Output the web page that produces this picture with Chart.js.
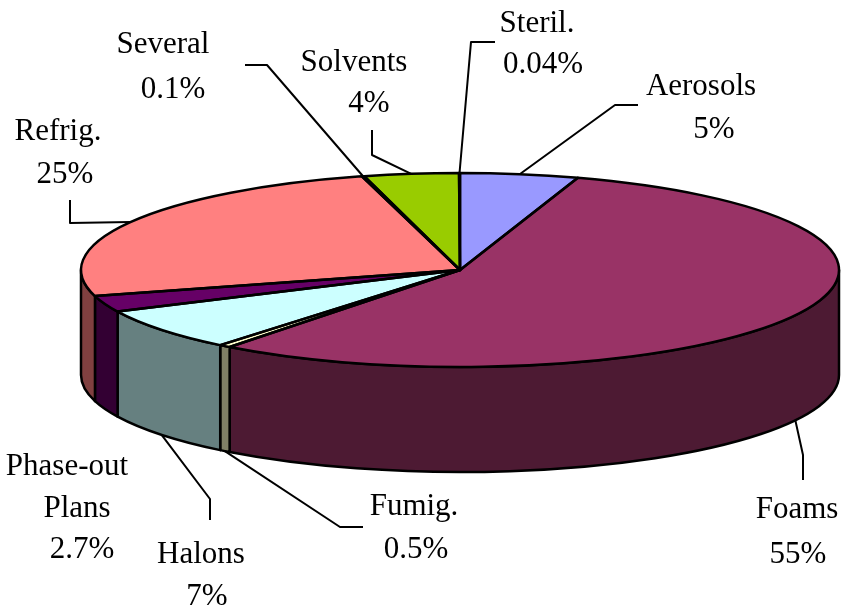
<!DOCTYPE html>
<html>
<head>
<meta charset="utf-8">
<script src="https://cdn.jsdelivr.net/npm/chart.js@4.4.1/dist/chart.umd.min.js"></script>
<style>
  body { margin: 0; background: #fff; }
  canvas { display: block; }
</style>
</head>
<body>
<canvas id="sectorChart" width="841" height="608"></canvas>
<script>
// Sectors and their share (%)
var categories = ['Aerosols', 'Foams', 'Fumig.', 'Halons', ['Phase-out', 'Plans'], 'Refrig.', 'Several', 'Solvents', 'Steril.'];
var shares = [5, 55, 0.5, 7, 2.7, 25, 0.1, 4, 0.04];
var topColors = ['#9999ff', '#993366', '#ffffcc', '#ccffff', '#660066', '#ff8080', '#0066cc', '#99cc00', '#ccccff'];
var sideColors = ['#4d4d80', '#4d1a33', '#808066', '#668080', '#330033', '#804040', '#003366', '#4d6600', '#666680'];

// top face ellipse and thickness of the disc
var CX = 460, CY = 270, RX = 379, RY = 97, DEPTH = 105;

// label text lines: centre x, baseline y
var labelPos = [
  [[701, 95], [714, 138]],
  [[797, 518], [798, 563]],
  [[414, 515], [416, 558]],
  [[201, 563], [207, 605]],
  [[67, 475], [77, 517], [82, 558]],
  [[58, 140], [65, 183]],
  [[163, 53], [173, 98]],
  [[354, 71], [369, 112]],
  [[537, 32], [543, 73]]
];
// leader line points from the label towards the slice
var leaderPts = [
  [[638, 105], [615, 105]],
  [[803, 480], [803, 455]],
  [[363, 527], [340, 527]],
  [[210, 520], [210, 499]],
  [],
  [[70, 200], [70, 223]],
  [[245, 65], [267, 65]],
  [[372, 130], [372, 155]],
  [[495, 42], [471, 42]]
];

var FONT = '31px "Liberation Serif", "Times New Roman", serif';

function arcProps(arc) {
  return arc.getProps(['x', 'y', 'startAngle', 'endAngle', 'outerRadius'], true);
}

var pie3d = {
  id: 'pie3d',
  beforeDatasetsDraw: function(chart) {
    var ctx = chart.ctx;
    var arcs = chart.getDatasetMeta(0).data;

    // side walls of the front half
    ctx.save();
    ctx.lineWidth = 2.5;
    ctx.strokeStyle = '#000';
    ctx.lineJoin = 'round';
    arcs.forEach(function(arc, i) {
      var p = arcProps(arc);
      var s = Math.max(p.startAngle, 0), e = Math.min(p.endAngle, Math.PI);
      if (e <= s) return;
      ctx.beginPath();
      ctx.ellipse(CX, CY, RX, RY, 0, s, e);
      ctx.ellipse(CX, CY + DEPTH, RX, RY, 0, e, s, true);
      ctx.closePath();
      ctx.fillStyle = sideColors[i];
      ctx.fill();
      ctx.stroke();
    });
    ctx.restore();

    // squash the flat pie onto the top face
    var p0 = arcProps(arcs[0]);
    ctx.save();
    ctx.translate(CX, CY);
    ctx.scale(RX / p0.outerRadius, RY / p0.outerRadius);
    ctx.translate(-p0.x, -p0.y);
  },
  afterDatasetsDraw: function(chart) {
    var ctx = chart.ctx;
    ctx.restore();
    var arcs = chart.getDatasetMeta(0).data;

    // slice outlines on the top face
    ctx.save();
    ctx.lineWidth = 2.5;
    ctx.strokeStyle = '#000';
    ctx.lineJoin = 'round';
    arcs.forEach(function(arc) {
      var p = arcProps(arc);
      ctx.beginPath();
      ctx.moveTo(CX, CY);
      ctx.ellipse(CX, CY, RX, RY, 0, p.startAngle, p.endAngle);
      ctx.closePath();
      ctx.stroke();
    });

    // leader lines
    ctx.lineWidth = 2;
    arcs.forEach(function(arc, i) {
      var pts = leaderPts[i];
      if (!pts.length) return;
      var p = arcProps(arc);
      var mid = (p.startAngle + p.endAngle) / 2;
      var ax = CX + RX * Math.cos(mid);
      var ay = CY + RY * Math.sin(mid);
      if (Math.sin(mid) > 0) ay += DEPTH;
      ctx.beginPath();
      ctx.moveTo(pts[0][0], pts[0][1]);
      for (var k = 1; k < pts.length; k++) ctx.lineTo(pts[k][0], pts[k][1]);
      ctx.lineTo(ax, ay);
      ctx.stroke();
    });

    // labels
    ctx.font = FONT;
    ctx.fillStyle = '#000';
    ctx.textAlign = 'center';
    ctx.textBaseline = 'alphabetic';
    categories.forEach(function(cat, i) {
      var lines = [].concat(cat, shares[i] + '%');
      lines.forEach(function(txt, k) {
        var pos = labelPos[i][k];
        ctx.fillText(txt, pos[0], pos[1]);
      });
    });
    ctx.restore();
  }
};

var ctx = document.getElementById('sectorChart').getContext('2d');
new Chart(ctx, {
  type: 'pie',
  data: {
    labels: categories,
    datasets: [{
      data: shares,
      backgroundColor: topColors,
      borderWidth: 0,
      clip: false
    }]
  },
  options: {
    responsive: false,
    animation: false,
    events: [],
    plugins: {
      legend: { display: false },
      tooltip: { enabled: false }
    }
  },
  plugins: [pie3d]
});
</script>
</body>
</html>
